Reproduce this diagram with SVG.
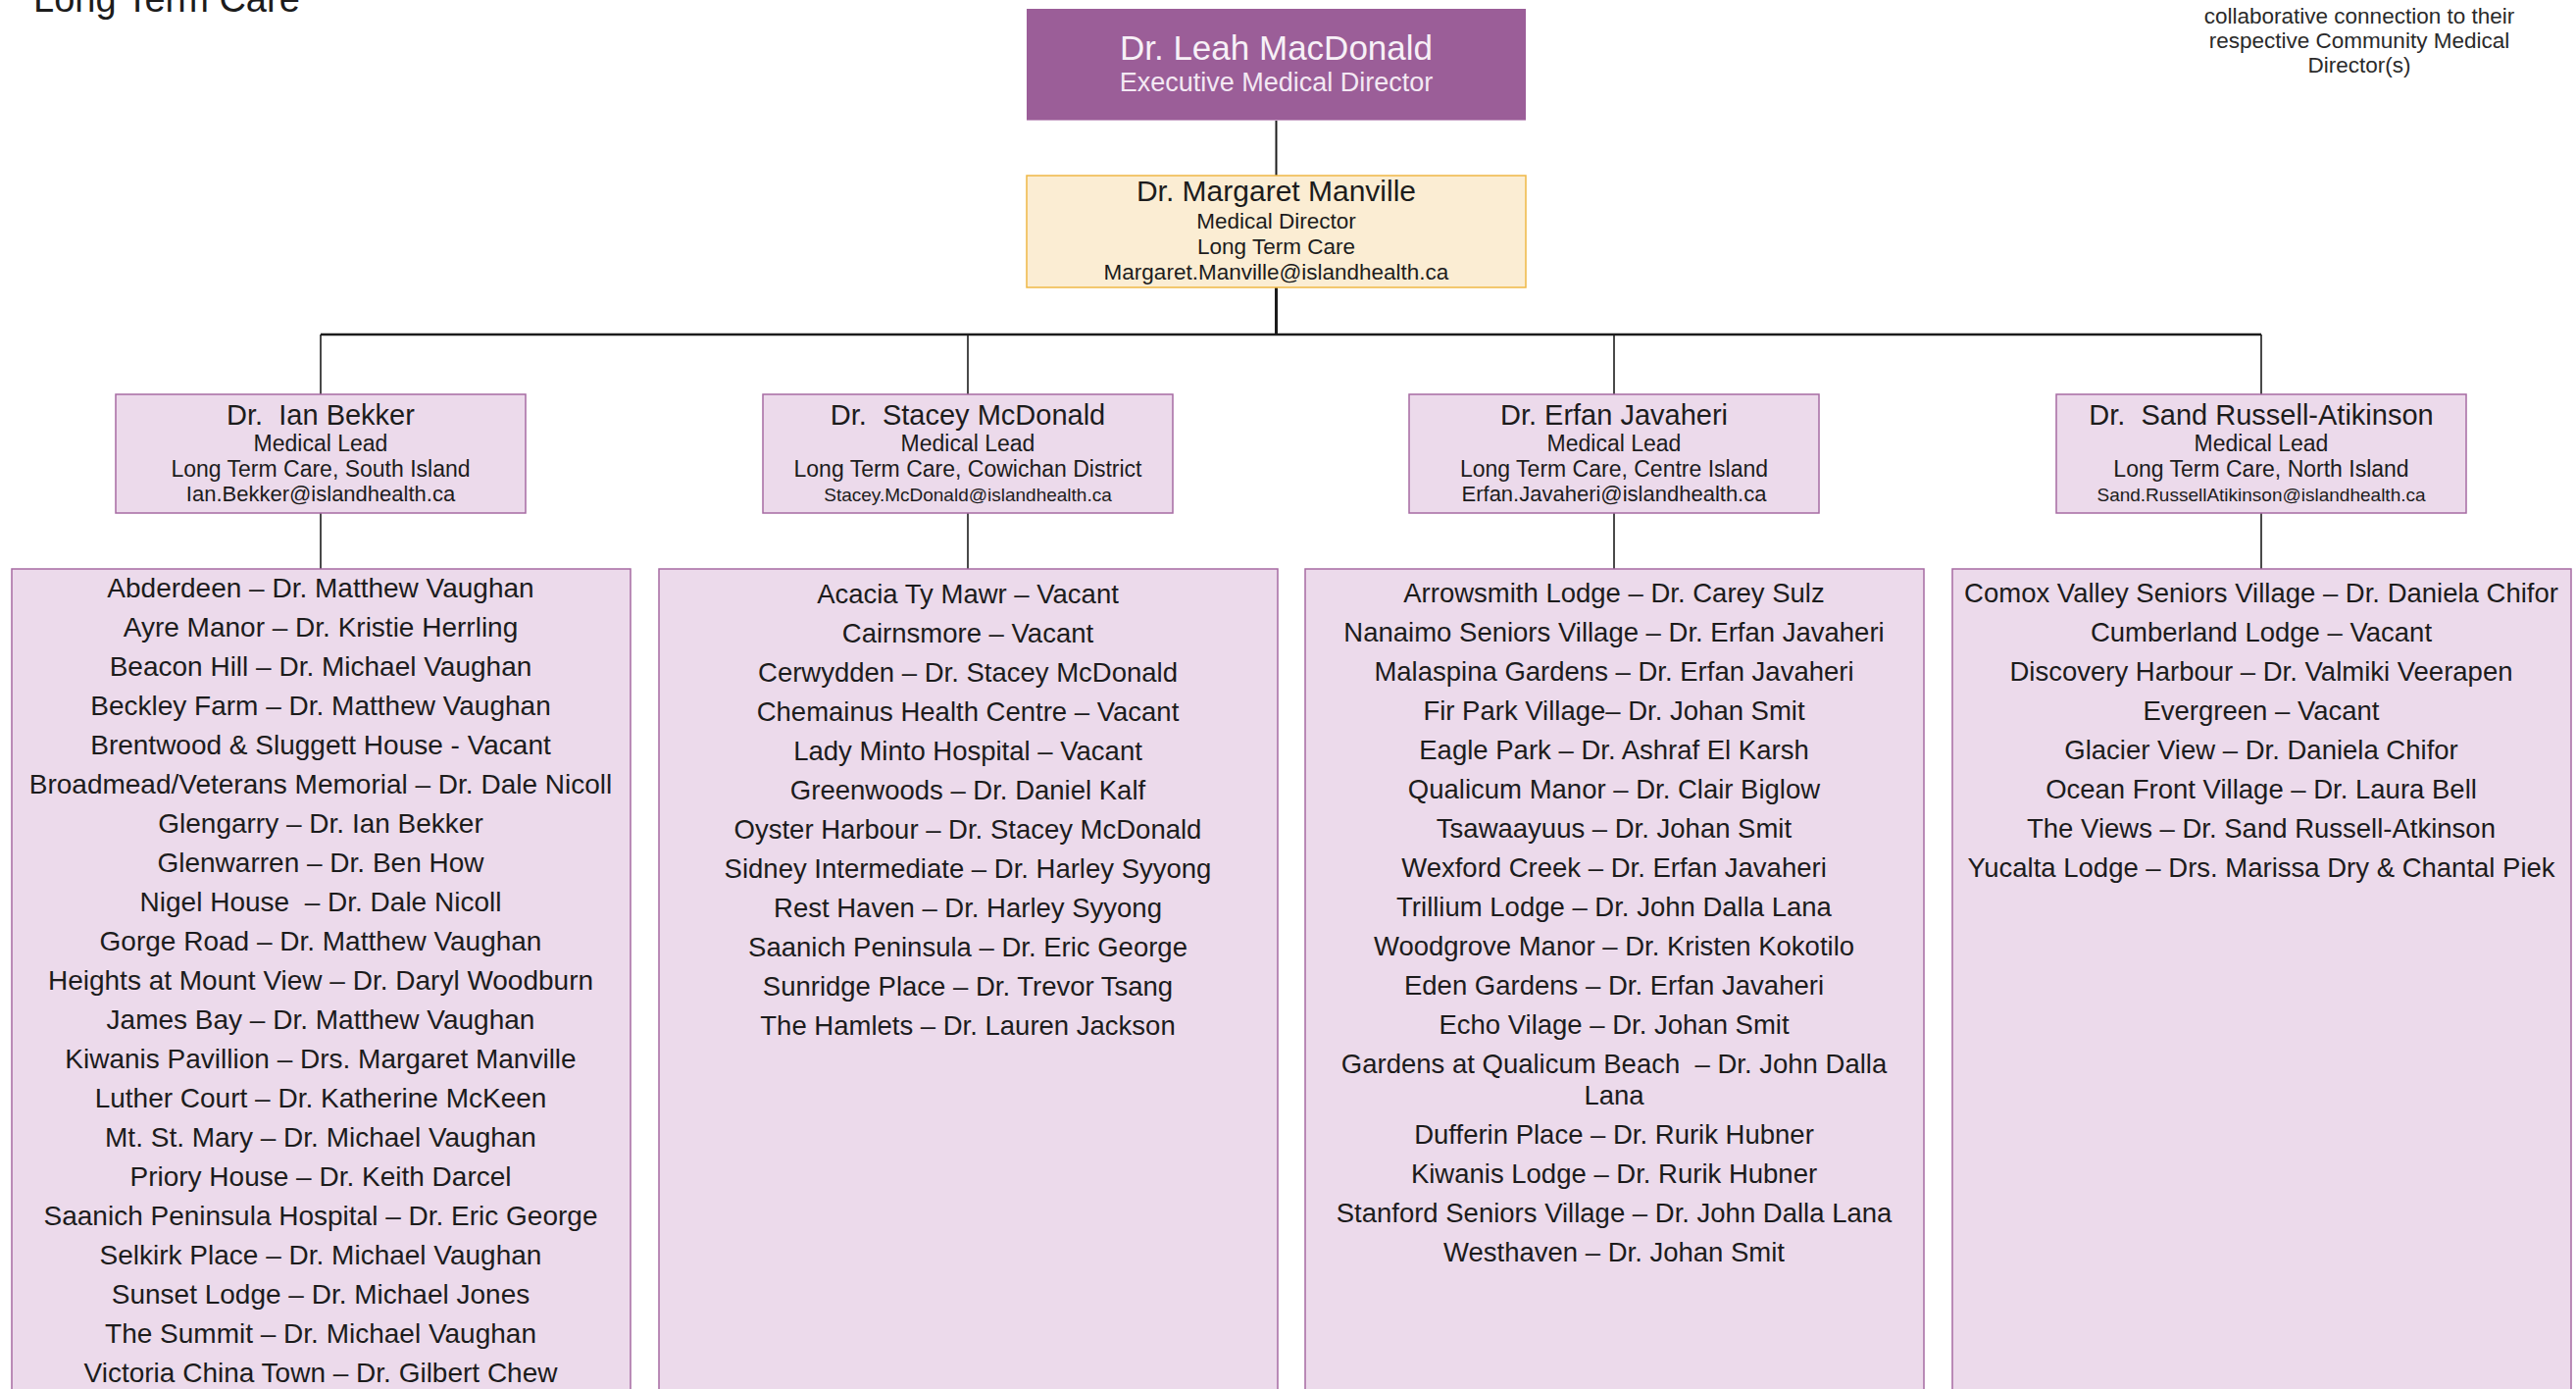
<svg xmlns="http://www.w3.org/2000/svg" width="2627" height="1416" viewBox="0 0 2627 1416" xml:space="preserve">
<style>
text{white-space:pre}
.t{font-family:"Liberation Sans",Arial,sans-serif;fill:#1c1c1c;text-anchor:middle}
.title{font-family:"Liberation Sans",Arial,sans-serif;fill:#1c1c1c;font-size:38px}
.note{font-size:22.5px;fill:#2a2a2a}
.list{font-size:27.5px}
.list1{font-size:28px}
.box{fill:#ecdaeb;stroke:#a66ba3;stroke-width:1.5}
.name{font-size:29px}
.sub{font-size:23px}
.em{font-size:22px}
.ems{font-size:19px}
#connectors line{stroke:#1c1c1c;stroke-width:1.6}
</style>

<text class="title" x="34" y="12">Long Term Care</text>

<g id="note" class="t note">
<text x="2406" y="24">collaborative connection to their</text>
<text x="2406" y="49">respective Community Medical</text>
<text x="2406" y="74">Director(s)</text>
</g>

<g id="connectors">
<line x1="1301.5" y1="123" x2="1301.5" y2="179" style="stroke-width:2"/>
<line x1="1301.5" y1="293" x2="1301.5" y2="342" style="stroke-width:3"/>
<line x1="327" y1="341" x2="2306" y2="341" style="stroke-width:2.5"/>
<line x1="327" y1="341" x2="327" y2="402"/>
<line x1="987" y1="341" x2="987" y2="402"/>
<line x1="1646" y1="341" x2="1646" y2="402"/>
<line x1="2306" y1="341" x2="2306" y2="402"/>
<line x1="327" y1="523" x2="327" y2="580"/>
<line x1="987" y1="523" x2="987" y2="580"/>
<line x1="1646" y1="523" x2="1646" y2="580"/>
<line x1="2306" y1="523" x2="2306" y2="580"/>
</g>

<g id="leah">
<rect x="1047" y="9" width="509" height="114" fill="#9b5e98"/>
<line x1="1047" y1="122.5" x2="1556" y2="122.5" stroke="#c9a3c7" stroke-width="1"/>
<text class="t" x="1301.5" y="61" style="font-size:35px;fill:#f7f0f7">Dr. Leah MacDonald</text>
<text class="t" x="1301.5" y="93" style="font-size:27px;fill:#f3e8f3">Executive Medical Director</text>
</g>

<g id="margaret">
<rect x="1047" y="179" width="509" height="114" fill="#fbedd3" stroke="#efb845" stroke-width="1.5"/>
<text class="t" x="1301.5" y="205" style="font-size:30px">Dr. Margaret Manville</text>
<text class="t" x="1301.5" y="233" style="font-size:22.5px">Medical Director</text>
<text class="t" x="1301.5" y="259" style="font-size:22.5px">Long Term Care</text>
<text class="t" x="1301.5" y="285" style="font-size:22.5px">Margaret.Manville@islandhealth.ca</text>
</g>

<g id="lead-bekker">
<rect class="box" x="118" y="402" width="418" height="121"/>
<text class="t name" x="327" y="433" xml:space="preserve">Dr.  Ian Bekker</text>
<text class="t sub" x="327" y="460">Medical Lead</text>
<text class="t sub" x="327" y="486">Long Term Care, South Island</text>
<text class="t em" x="327" y="511">Ian.Bekker@islandhealth.ca</text>
</g>

<g id="lead-mcdonald">
<rect class="box" x="778" y="402" width="418" height="121"/>
<text class="t name" x="987" y="433" xml:space="preserve">Dr.  Stacey McDonald</text>
<text class="t sub" x="987" y="460">Medical Lead</text>
<text class="t sub" x="987" y="486">Long Term Care, Cowichan District</text>
<text class="t ems" x="987" y="511">Stacey.McDonald@islandhealth.ca</text>
</g>

<g id="lead-javaheri">
<rect class="box" x="1437" y="402" width="418" height="121"/>
<text class="t name" x="1646" y="433">Dr. Erfan Javaheri</text>
<text class="t sub" x="1646" y="460">Medical Lead</text>
<text class="t sub" x="1646" y="486">Long Term Care, Centre Island</text>
<text class="t em" x="1646" y="511">Erfan.Javaheri@islandhealth.ca</text>
</g>

<g id="lead-russell">
<rect class="box" x="2097" y="402" width="418" height="121"/>
<text class="t name" x="2306" y="433" xml:space="preserve">Dr.  Sand Russell-Atikinson</text>
<text class="t sub" x="2306" y="460">Medical Lead</text>
<text class="t sub" x="2306" y="486">Long Term Care, North Island</text>
<text class="t ems" x="2306" y="511">Sand.RussellAtikinson@islandhealth.ca</text>
</g>

<g id="sites-south">
<rect class="box" x="12" y="580" width="631" height="850"/>
<g class="t list1">
<text x="327" y="609">Abderdeen – Dr. Matthew Vaughan</text>
<text x="327" y="649">Ayre Manor – Dr. Kristie Herrling</text>
<text x="327" y="689">Beacon Hill – Dr. Michael Vaughan</text>
<text x="327" y="729">Beckley Farm – Dr. Matthew Vaughan</text>
<text x="327" y="769">Brentwood &amp; Sluggett House - Vacant</text>
<text x="327" y="809">Broadmead/Veterans Memorial – Dr. Dale Nicoll</text>
<text x="327" y="849">Glengarry – Dr. Ian Bekker</text>
<text x="327" y="889">Glenwarren – Dr. Ben How</text>
<text x="327" y="929" xml:space="preserve">Nigel House  – Dr. Dale Nicoll</text>
<text x="327" y="969">Gorge Road – Dr. Matthew Vaughan</text>
<text x="327" y="1009">Heights at Mount View – Dr. Daryl Woodburn</text>
<text x="327" y="1049">James Bay – Dr. Matthew Vaughan</text>
<text x="327" y="1089">Kiwanis Pavillion – Drs. Margaret Manville</text>
<text x="327" y="1129">Luther Court – Dr. Katherine McKeen</text>
<text x="327" y="1169">Mt. St. Mary – Dr. Michael Vaughan</text>
<text x="327" y="1209">Priory House – Dr. Keith Darcel</text>
<text x="327" y="1249">Saanich Peninsula Hospital – Dr. Eric George</text>
<text x="327" y="1289">Selkirk Place – Dr. Michael Vaughan</text>
<text x="327" y="1329">Sunset Lodge – Dr. Michael Jones</text>
<text x="327" y="1369">The Summit – Dr. Michael Vaughan</text>
<text x="327" y="1409">Victoria China Town – Dr. Gilbert Chew</text>
</g>
</g>

<g id="sites-cowichan">
<rect class="box" x="672" y="580" width="631" height="850"/>
<g class="t list">
<text x="987" y="615">Acacia Ty Mawr – Vacant</text>
<text x="987" y="655">Cairnsmore – Vacant</text>
<text x="987" y="695">Cerwydden – Dr. Stacey McDonald</text>
<text x="987" y="735">Chemainus Health Centre – Vacant</text>
<text x="987" y="775">Lady Minto Hospital – Vacant</text>
<text x="987" y="815">Greenwoods – Dr. Daniel Kalf</text>
<text x="987" y="855">Oyster Harbour – Dr. Stacey McDonald</text>
<text x="987" y="895">Sidney Intermediate – Dr. Harley Syyong</text>
<text x="987" y="935">Rest Haven – Dr. Harley Syyong</text>
<text x="987" y="975">Saanich Peninsula – Dr. Eric George</text>
<text x="987" y="1015">Sunridge Place – Dr. Trevor Tsang</text>
<text x="987" y="1055">The Hamlets – Dr. Lauren Jackson</text>
</g>
</g>

<g id="sites-centre">
<rect class="box" x="1331" y="580" width="631" height="850"/>
<g class="t list">
<text x="1646" y="614">Arrowsmith Lodge – Dr. Carey Sulz</text>
<text x="1646" y="654">Nanaimo Seniors Village – Dr. Erfan Javaheri</text>
<text x="1646" y="694">Malaspina Gardens – Dr. Erfan Javaheri</text>
<text x="1646" y="734">Fir Park Village– Dr. Johan Smit</text>
<text x="1646" y="774">Eagle Park – Dr. Ashraf El Karsh</text>
<text x="1646" y="814">Qualicum Manor – Dr. Clair Biglow</text>
<text x="1646" y="854">Tsawaayuus – Dr. Johan Smit</text>
<text x="1646" y="894">Wexford Creek – Dr. Erfan Javaheri</text>
<text x="1646" y="934">Trillium Lodge – Dr. John Dalla Lana</text>
<text x="1646" y="974">Woodgrove Manor – Dr. Kristen Kokotilo</text>
<text x="1646" y="1014">Eden Gardens – Dr. Erfan Javaheri</text>
<text x="1646" y="1054">Echo Vilage – Dr. Johan Smit</text>
<text x="1646" y="1094" xml:space="preserve">Gardens at Qualicum Beach  – Dr. John Dalla</text>
<text x="1646" y="1126">Lana</text>
<text x="1646" y="1166">Dufferin Place – Dr. Rurik Hubner</text>
<text x="1646" y="1206">Kiwanis Lodge – Dr. Rurik Hubner</text>
<text x="1646" y="1246">Stanford Seniors Village – Dr. John Dalla Lana</text>
<text x="1646" y="1286">Westhaven – Dr. Johan Smit</text>
</g>
</g>

<g id="sites-north">
<rect class="box" x="1991" y="580" width="631" height="850"/>
<g class="t list">
<text x="2306" y="614">Comox Valley Seniors Village – Dr. Daniela Chifor</text>
<text x="2306" y="654">Cumberland Lodge – Vacant</text>
<text x="2306" y="694">Discovery Harbour – Dr. Valmiki Veerapen</text>
<text x="2306" y="734">Evergreen – Vacant</text>
<text x="2306" y="774">Glacier View – Dr. Daniela Chifor</text>
<text x="2306" y="814">Ocean Front Village – Dr. Laura Bell</text>
<text x="2306" y="854">The Views – Dr. Sand Russell-Atkinson</text>
<text x="2306" y="894">Yucalta Lodge – Drs. Marissa Dry &amp; Chantal Piek</text>
</g>
</g>
</svg>
